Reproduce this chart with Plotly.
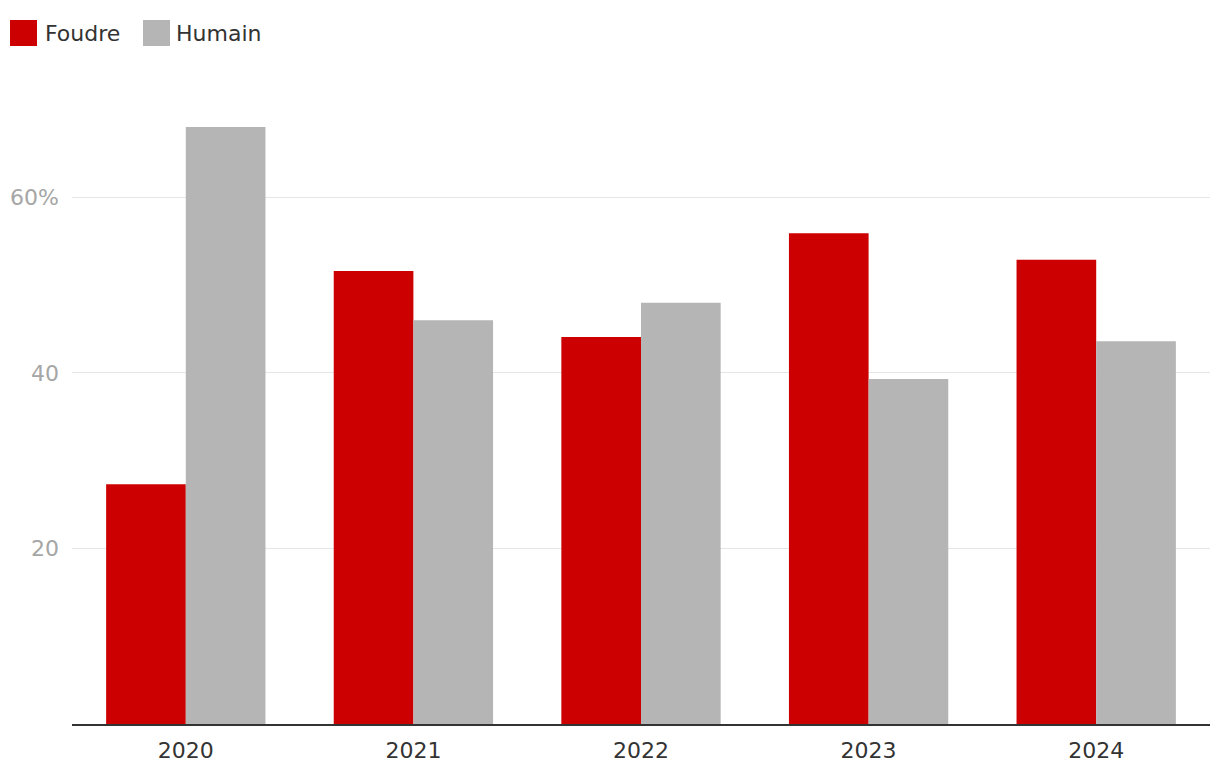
import plotly.graph_objects as go

years = ["2020", "2021", "2022", "2023", "2024"]
foudre = [27.3, 51.6, 44.1, 55.9, 52.9]
humain = [68.0, 46.0, 48.0, 39.3, 43.6]
tick_vals = [20, 40, 60]
tick_text = ["20", "40", "60%"]
series_names = ["Foudre", "Humain"]
series_colors = ["#CC0000", "#B5B5B5"]

FONT = "DejaVu Sans"

fig = go.Figure()
for name, vals, col in zip(series_names, [foudre, humain], series_colors):
    fig.add_trace(go.Bar(name=name, x=years, y=vals, marker_color=col,
                         marker_line_width=0, showlegend=False))

# custom legend (large square swatches as in the reference)
W, H = 1138.0, 632.0  # plot area size in px
L, T = 72.0, 92.0
def px_x(px):
    return (px - L) / W
def px_y(py):
    return (T + H - py) / H

legend_items = [(10, 43), (143, 174)]
for (sx, tx), name, col in zip(legend_items, series_names, series_colors):
    fig.add_shape(type="rect", xref="paper", yref="paper",
                  x0=px_x(sx), x1=px_x(sx + 27), y0=px_y(46), y1=px_y(20),
                  fillcolor=col, line_width=0)
    fig.add_annotation(text=name, xref="paper", yref="paper",
                       x=px_x(tx), y=px_y(34), xanchor="left", yanchor="middle",
                       showarrow=False, font=dict(size=22, color="#333333"))

fig.update_layout(
    width=1220, height=778,
    barmode="group", bargap=0.3, bargroupgap=0,
    plot_bgcolor="white", paper_bgcolor="white",
    margin=dict(l=72, r=10, t=92, b=54, autoexpand=False),
    font=dict(family=FONT, size=22, color="#333333"),
    showlegend=False,
    xaxis=dict(showgrid=False, showline=True, linecolor="#333333", linewidth=2,
               ticks="", ticklabelstandoff=6,
               tickfont=dict(size=22, color="#333333")),
    yaxis=dict(range=[0, 72], tickvals=tick_vals, ticktext=tick_text,
               showgrid=True, gridcolor="#E6E6E6", gridwidth=1,
               zeroline=False, showline=False, ticks="",
               ticklabelstandoff=12, automargin=False,
               tickfont=dict(size=22, color="#A6A6A6")),
)

fig.write_html("out.html", config={"displayModeBar": False},
               post_script="document.body.style.margin='0';document.body.style.overflow='hidden';")
